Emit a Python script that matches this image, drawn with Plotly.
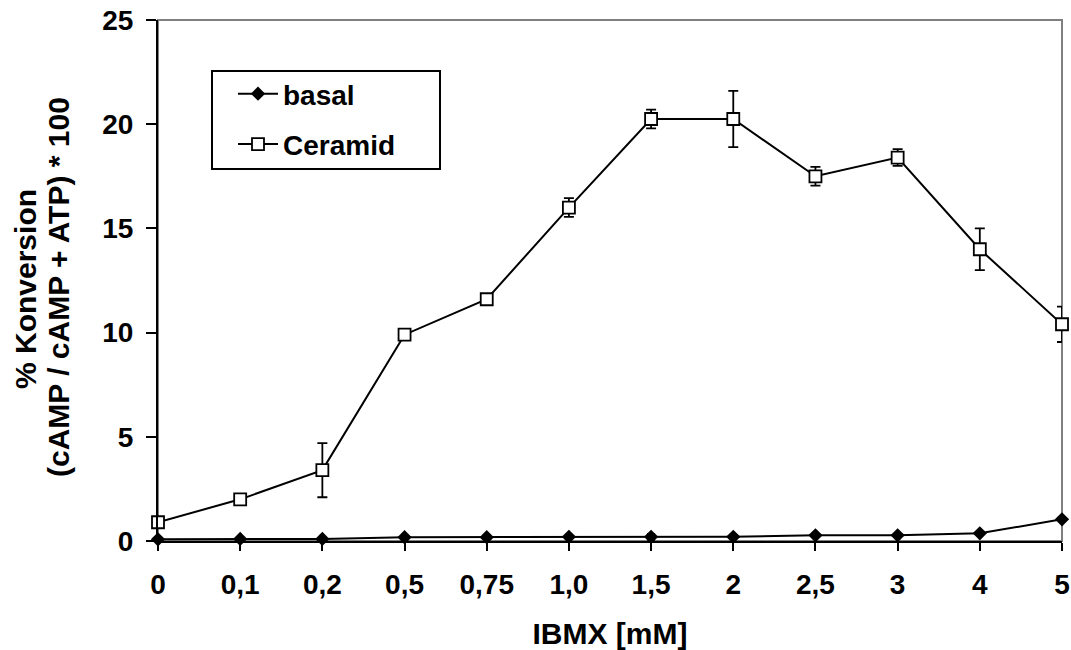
import plotly.graph_objects as go

categories = ["0", "0,1", "0,2", "0,5", "0,75", "1,0", "1,5", "2", "2,5", "3", "4", "5"]
basal = [0.08, 0.1, 0.1, 0.18, 0.18, 0.2, 0.2, 0.2, 0.27, 0.27, 0.37, 1.04]
basal_err = [0, 0, 0, 0, 0, 0, 0.15, 0, 0, 0, 0, 0]
ceramid = [0.9, 2.0, 3.4, 9.9, 11.6, 16.0, 20.25, 20.25, 17.5, 18.4, 14.0, 10.4]
ceramid_err = [0, 0, 1.3, 0, 0, 0.45, 0.45, 1.35, 0.45, 0.4, 1.0, 0.85]
y_ticks = [0, 5, 10, 15, 20, 25]

FONT = "Liberation Sans, Arial, sans-serif"
TICK_FS = 28
TITLE_FS = 30
LEG_FS = 28

# plot area in pixels
L, R, T, B = 158, 1062, 20, 541
W, H = 1071, 650
PW, PH = R - L, B - T


def px_x(x):
    return (x - L) / PW


def px_y(y):
    return 1 - (y - T) / PH


fig = go.Figure()
fig.add_trace(go.Scatter(
    x=categories, y=basal, name="basal", mode="lines+markers",
    line=dict(color="black", width=2),
    marker=dict(symbol="diamond", size=11, color="black"),
    error_y=dict(type="data", array=basal_err, visible=True, color="black", thickness=1.5, width=4),
    cliponaxis=False, legendgroup="a",
))
fig.add_trace(go.Scatter(
    x=categories, y=ceramid, name="Ceramid", mode="lines+markers",
    line=dict(color="black", width=2),
    marker=dict(symbol="square", size=12, color="white", line=dict(color="black", width=1.8)),
    error_y=dict(type="data", array=ceramid_err, visible=True, color="black", thickness=1.8, width=5),
    cliponaxis=False, legendgroup="b",
))

# gray frame (top/right), black axes drawn on top
fig.add_shape(type="rect", xref="paper", yref="paper", x0=0, x1=1, y0=0, y1=1,
              line=dict(color="#808080", width=2), layer="below")
# legend box
fig.add_shape(type="rect", xref="paper", yref="paper",
              x0=px_x(212), x1=px_x(440), y0=px_y(169), y1=px_y(71),
              line=dict(color="black", width=2), fillcolor="white", layer="below")

fig.update_layout(
    width=W, height=H,
    margin=dict(l=L, r=W - R, t=T, b=H - B, autoexpand=False),
    paper_bgcolor="white", plot_bgcolor="white",
    font=dict(family=FONT, size=TICK_FS, color="black", weight="bold"),
    showlegend=True,
    legend=dict(x=px_x(233), y=px_y(69), xanchor="left", yanchor="top",
                borderwidth=0, bgcolor="rgba(0,0,0,0)",
                font=dict(family=FONT, size=LEG_FS, color="black", weight="bold"),
                tracegroupgap=11, itemwidth=40),
    xaxis=dict(type="category", range=[0, len(categories) - 1], automargin=False,
               showline=True, linecolor="black", linewidth=2,
               ticks="outside", ticklen=8, tickwidth=1.5, tickcolor="black",
               showgrid=False, zeroline=False, ticklabelstandoff=9,
               title=dict(text="IBMX [mM]", standoff=24,
                          font=dict(family=FONT, size=TITLE_FS, weight="bold"))),
    yaxis=dict(range=[0, 25], tickvals=y_ticks, automargin=False,
               showline=True, linecolor="black", linewidth=2,
               ticks="outside", ticklen=10, tickwidth=1.5, tickcolor="black",
               showgrid=False, zeroline=False, ticklabelstandoff=7),
)

fig.add_annotation(text="% Konversion", textangle=-90, xref="paper", yref="paper",
                   x=px_x(25), y=px_y(289), showarrow=False,
                   xanchor="center", yanchor="middle",
                   font=dict(family=FONT, size=TITLE_FS, weight="bold"))
fig.add_annotation(text="(cAMP / cAMP + ATP) * 100", textangle=-90, xref="paper", yref="paper",
                   x=px_x(58), y=px_y(287), showarrow=False,
                   xanchor="center", yanchor="middle",
                   font=dict(family=FONT, size=TITLE_FS, weight="bold"))

fig.write_html("out.html")
